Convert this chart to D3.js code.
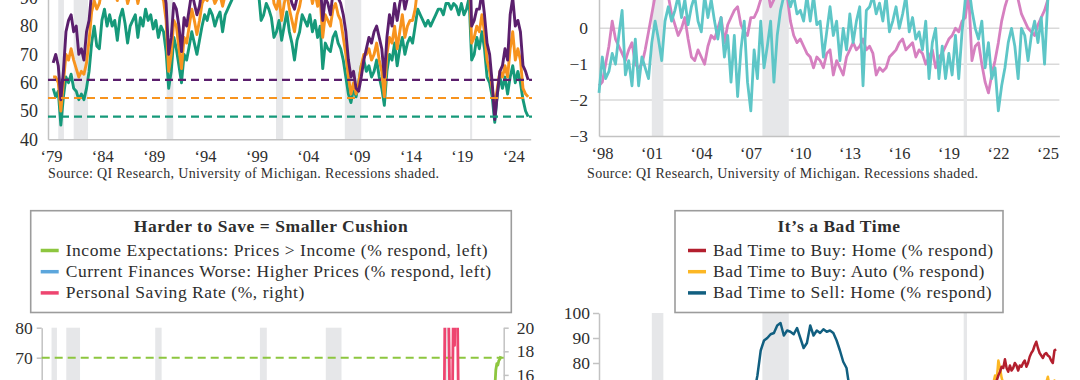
<!DOCTYPE html>
<html>
<head>
<meta charset="utf-8">
<script src="https://cdn.jsdelivr.net/npm/d3@7"></script>
<style>
  body { margin: 0; background: #fff; }
  svg { display: block; background: #fff; }
</style>
</head>
<body>
<svg width="1080" height="380"></svg>
<script>
// ---------- data ----------
const recessions = [[1980.0, 1980.55], [1981.5, 1982.9], [1990.55, 1991.2], [2001.2, 2001.9], [2007.9, 2009.5], [2020.1, 2020.3]];

// top left: sentiment indices, quarterly from 1979.5
const tlStart = 1979.5, tlStep = 0.25;
const tlGreen = [58, 55,
  57, 45, 55, 62,  60, 63, 58, 57,  54, 56, 54, 58,  64, 74, 80, 73,
  72, 82, 86, 80,  84, 80, 82, 75,  83, 86, 81, 74,  80, 82, 84, 76,
  83, 80, 86, 82,  84, 79, 82, 76,  80, 78, 71, 58,  64, 76, 72, 66,
  60, 70, 68, 73,  78, 74, 70, 75,  80, 84, 82, 86,  84, 80, 83, 85,
  78, 84, 86, 88,  90, 92, 95, 96,  97, 96, 94, 90,  94, 95, 92, 82,
  84, 88, 86, 83,  76, 78, 82, 75,  80, 85, 78, 74,  68, 75, 78, 84,
  82, 80, 84, 78,  82, 76, 80, 65,  74, 72, 71, 76,  78, 74, 72, 68,
  62, 56, 53, 58,  55, 60, 66, 68,  64, 66, 62, 64,  68, 62, 58, 52,
  64, 70, 68, 74,  66, 72, 76, 70,  74, 76, 74, 80,  86, 84, 82, 80,
  82, 80, 82, 84,  86, 86, 84, 88,  88, 86, 88, 87,  84, 88, 84, 86,
  90, 68, 70, 76,  72, 78, 72, 62,  60, 55, 46, 56,  62, 58, 62, 56,
  62, 66, 60, 64,  60, 54, 50, 48];
const tlOrange = [62, 62,
  60, 50, 60, 70,  68, 72, 68, 65,  62, 64, 63, 67,  75, 85, 89, 86,
  88, 93, 95, 92,  93, 91, 92, 89,  94, 95, 93, 88,  91, 92, 93, 88,
  92, 92, 96, 94,  95, 92, 93, 90,  91, 89, 82, 64,  70, 82, 80, 72,
  65, 76, 74, 80,  86, 82, 77, 82,  88, 90, 89, 92,  91, 88, 90, 91,
  87, 91, 93, 95,  97, 99, 102, 104,  106, 105, 104, 100,  104, 105, 104, 100,
  100, 102, 100, 96,  88, 86, 90, 82,  88, 92, 86, 82,  78, 84, 87, 92,
  92, 90, 93, 88,  92, 87, 90, 76,  84, 82, 80, 86,  88, 84, 82, 76,
  70, 62, 56, 60,  56, 60, 66, 70,  70, 72, 68, 70,  74, 68, 64, 55,
  70, 76, 74, 80,  72, 78, 84, 76,  80, 82, 82, 86,  94, 92, 92, 90,
  91, 90, 92, 93,  96, 96, 95, 98,  98, 98, 98, 98,  94, 98, 96, 96,
  100, 74, 76, 80,  78, 84, 78, 68,  64, 58, 52, 58,  64, 62, 66, 62,
  72, 78, 68, 72,  68, 58, 56, 55];
const tlPurple = [67, 70,
  66, 54, 64, 78,  82, 84, 78, 80,  70, 72, 68, 78,  82, 92, 96, 95,
  96, 100, 101, 99,  98, 97, 97, 96,  100, 100, 99, 97,  98, 98, 99, 96,
  98, 99, 102, 101,  102, 100, 100, 98,  97, 94, 88, 70,  76, 88, 86, 80,
  71, 83, 80, 86,  92, 88, 84, 87,  93, 96, 95, 97,  96, 94, 96, 97,
  94, 97, 99, 101,  104, 106, 110, 112,  114, 113, 113, 110,  113, 114, 114, 112,
  112, 114, 112, 108,  98, 94, 96, 90,  94, 97, 92, 88,  86, 90, 94, 97,
  98, 97, 99, 94,  97, 93, 96, 82,  90, 88, 84, 92,  94, 90, 88, 84,
  78, 68, 62, 64,  58, 57, 62, 68,  72, 76, 74, 78,  80, 76, 72, 62,
  76, 84, 80, 88,  82, 88, 92, 86,  90, 92, 94, 96,  104, 104, 102, 102,
  104, 102, 106, 106,  112, 112, 112, 114,  114, 116, 114, 114,  110, 112, 112, 112,
  114, 80, 82, 86,  86, 92, 84, 74,  70, 60, 47, 56,  64, 66, 72, 68,
  84, 90, 80, 82,  78, 66, 64, 61];
const tlRefs = [48, 54.6, 61];
const tlYTicks = [40, 50, 60, 70, 80, 90];
const tlXTicks = [1979, 1984, 1989, 1994, 1999, 2004, 2009, 2014, 2019, 2024];

// top right: standardized readings, every 0.2 yr from 1998
const trStart = 1998, trStep = 0.2;
const trPink = [
  -1.6, -1.5, -1.0, -0.5, 0.2,   -0.3, -0.5, -0.7, -0.9, -0.6,   -0.4, -1.0, -1.1, -1.0, -0.6,
  -0.1, 0.4, 0.9, 1.2, 1.1,      1.0, 0.9, 0.4, 0.1, -0.2,       0.0, 0.3, -0.3, -0.8, -0.9,
  -0.6, -0.8, -1.0, -0.5, -0.2,  -0.3, 0.0, 0.3, -0.4, 0.1,      0.3, 0.5, 0.6, 0.1, -0.1,
  -0.2, 0.3, 0.3, 0.5, 0.8,      1.0, 1.1, 0.6, 0.8, 1.0,        1.2, 1.1, 0.9, 0.2, -0.2,
  -0.4, -0.3, -0.5, -0.7, -0.8,  -1.1, -0.8, -0.9, -1.1, -0.7,   -0.6, -1.3, -0.9, -1.1, -1.3,
  -0.8, -0.6, -0.4, -0.6, -0.5,  -0.3, -0.6, -0.5, -0.7, -1.3,   -1.1, -1.2, -1.1, -0.8, -0.7,
  -0.6, -0.4, -0.3, -0.6, -0.5,  -0.4, -0.8, -0.6, -0.7, -1.0,   -0.8, -0.6, -1.1, -0.8, -0.7,
  -0.5, -0.3, -0.2, 0.0, -0.1,   0.2, 0.3, 1.0, -0.9, -0.5,      -0.4, -1.0, -1.5, -1.8, -1.3,
  -0.9, -0.4, 0.2, 0.6, 0.9,     1.1, 1.0, 0.8, 0.4, 0.2,        0.0, -0.1, -0.2, 0.1, 0.3,
  0.5, 0.8];
const trCyan = [
  -1.8, -0.8, -1.4, -1.2, -0.7,  -1.0, -0.2, 0.5, -1.3, -0.9,    -1.6, -0.3, -1.6, -0.8, -1.1,
  -1.4, -0.4, 0.2, -0.3, -0.9,   0.2, 0.6, 0.2, 0.5, 0.9,        0.3, 0.8, 0.1, 0.6, 0.9,
  0.2, -0.1, 0.9, 0.3, 0.8,      0.2, -0.3, 0.3, -0.8, -0.2,     -1.5, -0.2, -1.9, -0.6, 0.2,
  -1.5, -2.3, -0.6, -1.4, 0.2,   -1.1, -0.5, 0.2, -1.5, -0.2,    0.5, 0.9, 1.0, 0.6, 0.9,
  0.4, 0.5, 0.2, 0.9, 0.2,       0.9, 0.1, 0.2, -0.8, -0.1,      0.6, -0.2, 0.2, -0.9, 0.0,
  -0.6, 0.4, -0.4, 0.2, 0.6,     -1.6, 0.5, 0.6, 0.9, 0.4,       0.7, 0.2, 0.9, -0.1, 0.2,
  0.6, 0.0, 0.4, 0.9, -0.1,      0.3, -0.3, -0.1, -0.6, 0.2,     -1.4, -0.4, 0.0, -1.4, -0.5,
  -1.4, -0.7, -1.3, -0.2, -1.4,  -0.1, 0.8, 1.2, 0.5, 0.0,       -0.3, 0.2, -1.1, -0.4, -1.4,
  -1.1, -2.3, -1.6, -1.1, -0.4,  0.0, -0.5, -1.4, 0.0, -0.2,     -0.9, -0.2, 0.2, -0.4, 0.3,
  -1.0, 0.8];
const trYTicks = [-3, -2, -1, 0];
const trGrid = [-2, -1, 0, 1];
const trXTicks = [1998, 2001, 2004, 2007, 2010, 2013, 2016, 2019, 2022, 2025];

// bottom left: Harder to Save
const blLabels = ['Income Expectations: Prices > Income (% respond, left)',
  'Current Finances Worse: Higher Prices (% respond, left)',
  'Personal Saving Rate (%, right)'];
const blIncomeStart = 2024.9, blIncome = [52, 56, 60, 66, 68, 67.5, 69, 69.5, 70.5];
const blFinancesStart = 2024.9, blFinances = [40, 41, 42, 44, 45, 44, 46, 47, 48]; // sits below the visible crop
const blSavingStart = 2019.7, blSaving = [7.5, 7.2, 8, 19, 32, 30, 25, 21, 14.5, 13.5, 14, 15, 24, 18.5, 26, 28, 21, 13, 10, 9, 8.5];
const blRef = 70;
const blLeftTicks = [60, 70, 80];
const blRightTicks = [16, 18, 20];

// bottom right: It's a Bad Time
const brLabels = ['Bad Time to Buy: Home (% respond)', 'Bad Time to Buy: Auto (% respond)', 'Bad Time to Sell: Home (% respond)'];
const brSellStart = 2007.0, brSellStep = 0.2;
const brSellHome = [50, 58, 68, 75, 85, 89, 90, 91.5, 92, 95, 96, 91, 93, 92.5, 91.5, 94, 90, 86, 88, 95,
  91, 93, 92, 93.5, 92.5, 93, 92, 89, 85, 80.5, 78, 69, 60];
const brHomeStart = 2021.9, brAutoStart = 2021.7, brStep = 0.1;
const brBuyHome = [66, 70, 73, 75, 76.5, 78.5, 78, 81.5, 78, 76.5,
  79, 77, 78, 80, 79, 77, 79, 78.5, 80, 81,
  78.5, 80, 82.5, 84, 85, 87, 88.5, 86, 84, 83,
  82, 83.5, 84, 83, 82.5, 81, 80, 85, 85.5];
const brBuyAuto = [62, 68, 72, 75, 73, 81, 78, 74, 72, 70, 71, 72, 69, 70, 68, 70, 67, 69, 66, 68,
  70, 67, 69, 66, 68, 70, 67, 69, 68, 70, 67, 69, 70, 71, 72, 74.5, 71, 69, 70, 73, 71];
const brYTicks = [70, 80, 90, 100];

// ---------- drawing ----------
const svg = d3.select('svg');
const FONT = '"Palatino Linotype", "Book Antiqua", Palatino, "Liberation Serif", serif';
const TXT = '#2e2e2e', AXIS = '#c2c2c2', GRID = '#d9d9d9', SHADE = '#e6e7e9';
const source = 'Source: QI Research, University of Michigan. Recessions shaded.';

const toPts = (start, step, vals) => vals.map((v, i) => [start + i * step, v]);

function styleAxis(g, size) {
  g.attr('font-family', FONT).attr('font-size', size);
  g.select('.domain').attr('stroke', AXIS).attr('stroke-width', 1.5);
  g.selectAll('.tick line').attr('stroke', AXIS).attr('stroke-width', 1.5);
  g.selectAll('.tick text').attr('fill', TXT);
}

function drawLine(g, x, y, pts, color, w) {
  g.append('path').datum(pts)
    .attr('fill', 'none').attr('stroke', color).attr('stroke-width', w)
    .attr('stroke-linejoin', 'round')
    .attr('d', d3.line().x(d => x(d[0])).y(d => y(d[1])));
}

const yearLabel = d => '\u2018' + String(d).slice(2);

// ---- top left ----
const xTL = d3.scaleLinear().domain([1979, 2026]).range([48, 530.7]);
const yTL = d3.scaleLinear().domain([40, 100]).range([139.3, -30.5]);
const gTL = svg.append('g');

gTL.selectAll('rect').data(recessions).enter().append('rect')
  .attr('x', d => xTL(d[0])).attr('width', d => xTL(d[1]) - xTL(d[0]))
  .attr('y', yTL(100)).attr('height', yTL(40) - yTL(100))
  .attr('fill', SHADE);

gTL.append('g').attr('transform', `translate(${xTL(1979)},0)`)
  .call(d3.axisLeft(yTL).tickValues(tlYTicks).tickSize(0).tickPadding(10))
  .call(g => styleAxis(g, 18));
gTL.append('g').attr('transform', `translate(0,${yTL(40)})`)
  .call(d3.axisBottom(xTL).tickValues(tlXTicks).tickSize(0).tickPadding(11).tickFormat(yearLabel))
  .call(g => styleAxis(g, 16.5))
  .selectAll('.tick text').attr('dx', 3);

const tlColors = ['#16997a', '#f7931e', '#5b1f6d'];
[tlGreen, tlOrange, tlPurple].forEach((s, i) => drawLine(gTL, xTL, yTL, toPts(tlStart, tlStep, s), tlColors[i], 2.9));
gTL.selectAll('line.ref').data(tlRefs).enter().append('line')
  .attr('x1', xTL(1979)).attr('x2', 532)
  .attr('y1', d => yTL(d)).attr('y2', d => yTL(d))
  .attr('stroke', (d, i) => tlColors[i]).attr('stroke-width', 2.2)
  .attr('stroke-dasharray', '8,5');

gTL.append('text').attr('x', 48).attr('y', 178)
  .attr('font-family', FONT).attr('font-size', 14).attr('letter-spacing', 0.35)
  .attr('fill', TXT).text(source);

// ---- top right ----
const xTR = d3.scaleLinear().domain([1998, 2025.9]).range([599, 1059.4]);
const yTR = d3.scaleLinear().domain([-3, 1]).range([136, -7.6]);
const gTR = svg.append('g');

gTR.selectAll('line.grid').data(trGrid).enter().append('line')
  .attr('x1', xTR(1998)).attr('x2', xTR(2025.9))
  .attr('y1', d => yTR(d)).attr('y2', d => yTR(d))
  .attr('stroke', GRID).attr('stroke-width', 1.5);
gTR.selectAll('rect').data(recessions.filter(d => d[0] > 1998)).enter().append('rect')
  .attr('x', d => xTR(d[0])).attr('width', d => xTR(d[1]) - xTR(d[0]))
  .attr('y', yTR(1)).attr('height', yTR(-3) - yTR(1))
  .attr('fill', SHADE);
gTR.append('g').attr('transform', `translate(${xTR(1998)},0)`)
  .call(d3.axisLeft(yTR).tickValues(trYTicks).tickSize(0).tickPadding(11).tickFormat(d3.format('d')))
  .call(g => styleAxis(g, 17.5));
gTR.append('g').attr('transform', `translate(0,${yTR(-3)})`)
  .call(d3.axisBottom(xTR).tickValues(trXTicks).tickSize(0).tickPadding(11).tickFormat(yearLabel))
  .call(g => styleAxis(g, 16.5))
  .selectAll('.tick text').attr('dx', 3);

drawLine(gTR, xTR, yTR, toPts(trStart, trStep, trPink), '#d680c0', 2.8);
drawLine(gTR, xTR, yTR, toPts(trStart, trStep, trCyan), '#5ec6c7', 2.8);

gTR.append('text').attr('x', 587).attr('y', 178)
  .attr('font-family', FONT).attr('font-size', 14).attr('letter-spacing', 0.35)
  .attr('fill', TXT).text(source);

// ---- legends ----
function legend(x0, x1, sx, title, labels, colors) {
  const g = svg.append('g').attr('font-family', FONT).attr('fill', TXT);
  g.append('rect').attr('x', x0).attr('y', 210.7).attr('width', x1 - x0).attr('height', 101.8)
    .attr('fill', '#fff').attr('stroke', '#9c9c9c').attr('stroke-width', 1.6);
  g.append('text').attr('x', (x0 + x1) / 2).attr('y', 231.5).attr('text-anchor', 'middle')
    .attr('font-weight', 'bold').attr('font-size', 17.5).attr('letter-spacing', 0.55).text(title);
  labels.forEach((t, i) => {
    const cy = 250.5 + i * 21.2;
    g.append('line').attr('x1', sx).attr('x2', sx + 18).attr('y1', cy).attr('y2', cy)
      .attr('stroke', colors[i]).attr('stroke-width', 3.5);
    g.append('text').attr('x', sx + 25).attr('y', cy + 5.5)
      .attr('font-size', 17.5).attr('letter-spacing', 0.55).text(t);
  });
}

// ---- bottom left ----
const xBL = d3.scaleLinear().domain([1979, 2026]).range([41.7, 503.7]);
const yBL = d3.scaleLinear().domain([20, 80]).range([507.7, 327.7]);
const yBLR = d3.scaleLinear().domain([5, 20]).range([504.7, 327.7]);
const gBL = svg.append('g');
gBL.append('clipPath').attr('id', 'clipBL').append('rect')
  .attr('x', 41.7).attr('y', 327.7).attr('width', 462).attr('height', 200);

gBL.selectAll('rect.rec').data(recessions).enter().append('rect')
  .attr('x', d => xBL(d[0])).attr('width', d => xBL(d[1]) - xBL(d[0]))
  .attr('y', yBL(80)).attr('height', 200).attr('fill', SHADE);
gBL.append('g').attr('transform', `translate(${xBL(1979)},0)`)
  .call(d3.axisLeft(yBL).tickValues(blLeftTicks).tickSize(5).tickSizeOuter(0).tickPadding(4))
  .call(g => styleAxis(g, 17.5));
gBL.append('g').attr('transform', `translate(${xBL(2026)},0)`)
  .call(d3.axisRight(yBLR).tickValues(blRightTicks).tickSize(5).tickSizeOuter(0).tickPadding(8))
  .call(g => styleAxis(g, 17.5));

const blColors = ['#8dc63f', '#5ca6dc', '#ee4570'];
gBL.append('line').attr('x1', xBL(1979)).attr('x2', xBL(2026))
  .attr('y1', yBL(blRef)).attr('y2', yBL(blRef))
  .attr('stroke', blColors[0]).attr('stroke-width', 2).attr('stroke-dasharray', '8,5');
const gBLc = gBL.append('g').attr('clip-path', 'url(#clipBL)');
drawLine(gBLc, xBL, yBLR, toPts(blSavingStart, 0.1, blSaving), blColors[2], 2.8);
drawLine(gBLc, xBL, yBL, toPts(blFinancesStart, 0.1, blFinances), blColors[1], 2.8);
drawLine(gBLc, xBL, yBL, toPts(blIncomeStart, 0.1, blIncome), blColors[0], 2.8);

legend(30.7, 511.3, 40.7, 'Harder to Save = Smaller Cushion', blLabels, blColors);

// ---- bottom right ----
const xBR = d3.scaleLinear().domain([1998, 2025.9]).range([599, 1059.4]);
const yBR = d3.scaleLinear().domain([0, 100]).range([563, 313]);
const gBR = svg.append('g');
gBR.selectAll('rect').data(recessions.filter(d => d[0] > 1998)).enter().append('rect')
  .attr('x', d => xBR(d[0])).attr('width', d => xBR(d[1]) - xBR(d[0]))
  .attr('y', yBR(100)).attr('height', 200).attr('fill', SHADE);
gBR.append('g').attr('transform', `translate(${xBR(1998)},0)`)
  .call(d3.axisLeft(yBR).tickValues(brYTicks).tickSize(6).tickSizeOuter(0).tickPadding(3))
  .call(g => styleAxis(g, 17.5));

const brColors = ['#b31f2e', '#fcb724', '#115f80'];
drawLine(gBR, xBR, yBR, toPts(brAutoStart, brStep, brBuyAuto), brColors[1], 2.5);
drawLine(gBR, xBR, yBR, toPts(brHomeStart, brStep, brBuyHome), brColors[0], 2.5);
drawLine(gBR, xBR, yBR, toPts(brSellStart, brSellStep, brSellHome), brColors[2], 2.5);

legend(675, 1003, 688, 'It\u2019s a Bad Time', brLabels, brColors);
</script>
</body>
</html>
